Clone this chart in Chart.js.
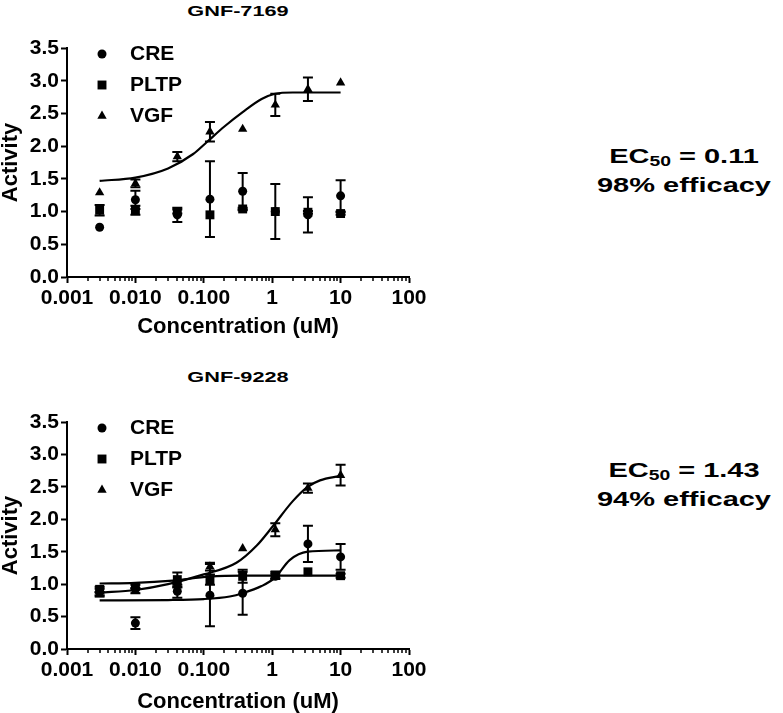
<!DOCTYPE html>
<html lang="en">
<head>
<meta charset="UTF-8" />
<title>GNF-7169 / GNF-9228</title>
<script src="https://cdn.jsdelivr.net/npm/chart.js"></script>
<style>
  body {
    margin: 0;
    width: 783px;
    height: 713px;
    overflow: hidden;
    background: #fff;
    position: relative;
    font-family: "Liberation Sans", Arial, sans-serif;
    color: #000;
  }
  canvas { position: absolute; left: 0; }
  #c1 { top: 0; }
  #c2 { top: 375px; }
  .ttl {
    position: absolute;
    left: 138px;
    width: 200px;
    text-align: center;
    font-weight: bold;
    font-size: 15.5px;
    line-height: 15.5px;
    transform: scaleX(1.4);
  }
  .ec {
    position: absolute;
    left: 584px;
    width: 200px;
    text-align: center;
    font-weight: bold;
    font-size: 21px;
    line-height: 29px;
    transform: scaleX(1.38);
  }
  .ec sub { font-size: 14px; vertical-align: -3px; line-height: 0; }
</style>
</head>
<body>
  <div class="ttl" style="top:3px">GNF-7169</div>
  <canvas id="c1" width="430" height="345"></canvas>
  <div class="ec" style="top:141px">EC<sub>50</sub> = 0.11<br>98% efficacy</div>

  <div class="ttl" style="top:369px">GNF-9228</div>
  <canvas id="c2" width="430" height="341"></canvas>
  <div class="ec" style="top:455px">EC<sub>50</sub> = 1.43<br>94% efficacy</div>

<script>
// concentrations (uM)
const conc = [0.003, 0.01, 0.041, 0.123, 0.37, 1.11, 3.33, 10];

// GNF-7169
const creA = [0.76, 1.18, 0.95, 1.19, 1.31, 1.00, 0.95, 1.24];
const creAErr = [0, 0.14, 0.11, 0.58, 0.28, 0, 0.27, 0.24];
const pltpA = [1.02, 1.02, 1.00, 0.95, 1.04, 1.00, 0.99, 0.97];
const pltpAErr = [0.08, 0.07, 0.03, 0, 0.02, 0.42, 0.02, 0.02];
const vgfA = [1.29, 1.43, 1.84, 2.22, 2.26, 2.63, 2.87, 2.97];
const vgfAErr = [0, 0.06, 0.07, 0.15, 0, 0.17, 0.18, 0];
const vgfAFitX = [0.003, 0.01, 0.03, 0.07, 0.11, 0.2, 0.37, 0.7, 1.1, 2, 10];
const vgfAFitY = [1.47, 1.52, 1.66, 1.88, 2.06, 2.3, 2.52, 2.72, 2.8, 2.82, 2.82];

// GNF-9228
const creB = [0.88, 0.40, 0.89, 0.83, 0.86, 1.12, 1.62, 1.42];
const creBErr = [0.05, 0.09, 0.1, 0.48, 0.33, 0.04, 0.28, 0.2];
const pltpB = [0.92, 0.96, 1.07, 1.07, 1.12, 1.14, 1.19, 1.13];
const pltpBErr = [0.04, 0.03, 0.11, 0.08, 0.1, 0.05, 0, 0.03];
const vgfB = [0.84, 0.9, 1.0, 1.27, 1.55, 1.84, 2.48, 2.68];
const vgfBErr = [0.03, 0.04, 0.05, 0.06, 0, 0.1, 0.07, 0.16];
const vgfBFitX = [0.003, 0.01, 0.03, 0.1, 0.3, 0.6, 1, 2, 3.3, 5, 10];
const vgfBFitY = [0.87, 0.91, 1.0, 1.15, 1.33, 1.6, 1.88, 2.28, 2.5, 2.6, 2.67];
const creBFitX = [0.003, 0.03, 0.1, 0.24, 0.37, 0.7, 1.1, 1.8, 3.3, 10];
const creBFitY = [0.75, 0.755, 0.77, 0.81, 0.86, 0.97, 1.1, 1.37, 1.5, 1.52];
const pltpBFitX = [0.003, 0.01, 0.035, 0.12, 0.37, 10];
const pltpBFitY = [1.01, 1.02, 1.055, 1.115, 1.13, 1.13];

// axes
const xMajor = [0.001, 0.01, 0.1, 1, 10, 100];
const xLabels = ["0.001", "0.010", "0.100", "1", "10", "100"];
const yTicks = [0, 0.5, 1, 1.5, 2, 2.5, 3, 3.5];

const xMinor = [];
for (let i = 0; i < xMajor.length - 1; i++) {
  for (let k = 2; k <= 9; k++) xMinor.push(+(xMajor[i] * k).toPrecision(3));
}

Chart.defaults.font.family = '"Liberation Sans", Arial, sans-serif';
Chart.defaults.color = "#000";

const pts = (xs, ys) => xs.map((x, i) => ({ x: x, y: ys[i] }));
const bold = (size, lh) => ({ size: size, weight: "bold", lineHeight: lh || 1.2 });

const errorBars = {
  id: "errorBars",
  afterDatasetsDraw(chart) {
    const ctx = chart.ctx, xs = chart.scales.x, ys = chart.scales.y;
    ctx.save();
    ctx.strokeStyle = "#000";
    ctx.lineWidth = 2;
    chart.data.datasets.forEach((ds) => {
      if (!ds.errors) return;
      ds.data.forEach((p, i) => {
        const e = ds.errors[i];
        if (!e) return;
        const x = xs.getPixelForValue(p.x);
        const y1 = ys.getPixelForValue(p.y + e);
        const y2 = ys.getPixelForValue(p.y - e);
        ctx.beginPath();
        ctx.moveTo(x, y1); ctx.lineTo(x, y2);
        ctx.moveTo(x - 5, y1); ctx.lineTo(x + 5, y1);
        ctx.moveTo(x - 5, y2); ctx.lineTo(x + 5, y2);
        ctx.stroke();
      });
    });
    ctx.restore();
  },
};

const minorTicks = {
  id: "minorTicks",
  afterDraw(chart) {
    const ctx = chart.ctx, xs = chart.scales.x, b = chart.chartArea.bottom;
    ctx.save();
    ctx.strokeStyle = "#000";
    ctx.lineWidth = 1.5;
    ctx.beginPath();
    xMinor.forEach((v) => {
      const x = Math.round(xs.getPixelForValue(v));
      ctx.moveTo(x, b);
      ctx.lineTo(x, b + 4);
    });
    ctx.stroke();
    ctx.restore();
  },
};

// legend drawn inside the plot, top-left
const insideLegend = {
  id: "insideLegend",
  afterDraw(chart) {
    const ctx = chart.ctx, area = chart.chartArea;
    ctx.save();
    ctx.fillStyle = "#000";
    ctx.strokeStyle = "#000";
    ctx.font = 'bold 21px "Liberation Sans", Arial, sans-serif';
    ctx.textBaseline = "middle";
    let row = 0;
    chart.data.datasets.forEach((ds) => {
      if (ds.type !== "scatter") return;
      const y = area.top + 6 + row * 31;
      Chart.helpers.drawPoint(ctx, { pointStyle: ds.pointStyle, radius: ds.pointRadius, rotation: 0, borderWidth: 0 }, area.left + 35, y);
      ctx.fillText(ds.label, area.left + 63, y);
      row++;
    });
    ctx.restore();
  },
};

function scatterSet(label, style, radius, ys, errs) {
  return {
    type: "scatter",
    label: label,
    data: pts(conc, ys),
    errors: errs,
    pointStyle: style,
    pointRadius: radius,
    pointHoverRadius: radius,
    backgroundColor: "#000",
    borderColor: "#000",
    borderWidth: 0,
  };
}

function fitLine(xs, ys) {
  return {
    type: "line",
    label: "",
    data: pts(xs, ys),
    borderColor: "#000",
    borderWidth: 2.2,
    pointRadius: 0,
    cubicInterpolationMode: "monotone",
    fill: false,
  };
}

function makeChart(id, datasets, padTop, xHeight, titlePad) {
  return new Chart(document.getElementById(id), {
    type: "scatter",
    data: { datasets: datasets },
    plugins: [errorBars, minorTicks, insideLegend],
    options: {
      responsive: false,
      animation: false,
      layout: { padding: { top: padTop, right: 21, left: 0, bottom: 0 } },
      plugins: { legend: { display: false }, tooltip: { enabled: false } },
      scales: {
        x: {
          type: "logarithmic",
          min: 0.001,
          max: 100,
          afterBuildTicks: (s) => { s.ticks = xMajor.map((v) => ({ value: v, major: true })); },
          afterFit: (s) => { s.height = xHeight; },
          ticks: {
            autoSkip: false,
            maxRotation: 0,
            minRotation: 0,
            padding: 3,
            color: "#000",
            font: bold(21),
            callback: (v) => {
              const i = xMajor.findIndex((m) => Math.abs(m - v) < m * 1e-6);
              return i < 0 ? "" : xLabels[i];
            },
          },
          grid: { drawOnChartArea: false, drawTicks: true, tickLength: 6, tickWidth: 2, tickColor: "#000" },
          border: { display: true, color: "#000", width: 2 },
          title: { display: true, text: "Concentration (uM)", color: "#000", font: bold(22), padding: { top: 0, bottom: titlePad } },
        },
        y: {
          min: 0,
          max: 3.5,
          afterBuildTicks: (s) => { s.ticks = yTicks.map((v) => ({ value: v })); },
          afterFit: (s) => { s.width = 67; },
          ticks: { color: "#000", font: bold(21), padding: 2, callback: (v) => v.toFixed(1) },
          grid: { drawOnChartArea: false, drawTicks: true, tickLength: 6, tickWidth: 2, tickColor: "#000" },
          border: { display: true, color: "#000", width: 2 },
          title: { display: true, text: "Activity", color: "#000", font: bold(22, 1), padding: { top: 0, bottom: 0 } },
        },
      },
    },
  });
}

makeChart("c1", [
  scatterSet("CRE", "circle", 4.5, creA, creAErr),
  scatterSet("PLTP", "rect", 6.3, pltpA, pltpAErr),
  scatterSet("VGF", "triangle", 5.4, vgfA, vgfAErr),
  fitLine(vgfAFitX, vgfAFitY),
], 48, 68, 5);

makeChart("c2", [
  scatterSet("CRE", "circle", 4.5, creB, creBErr),
  scatterSet("PLTP", "rect", 6.3, pltpB, pltpBErr),
  scatterSet("VGF", "triangle", 5.4, vgfB, vgfBErr),
  fitLine(vgfBFitX, vgfBFitY),
  fitLine(creBFitX, creBFitY),
  fitLine(pltpBFitX, pltpBFitY),
], 47, 67, 1);
</script>
</body>
</html>
